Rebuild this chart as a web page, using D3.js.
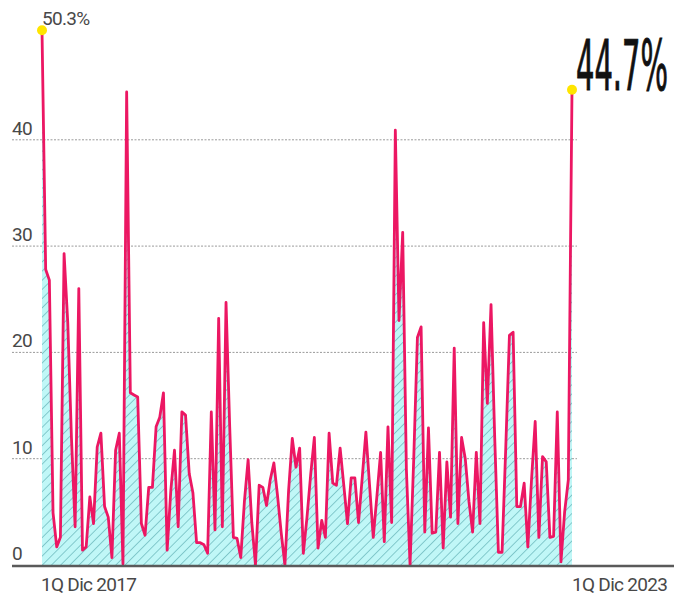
<!DOCTYPE html>
<html>
    <body>
        <svg id="svg"></svg>
    </body>
</html>

<script src="https://d3js.org/d3.v7.min.js"></script>

<script>
    let visWidth = 674;
    let visHeight = 596;

    // fortnightly values (%), 1Q Dic 2017 .. 1Q Dic 2023
    let values = [
        50.3, 27.8, 26.8, 4.9, 1.7, 2.6, 29.3, 22.8, 12, 3.6,
        26, 1.4, 1.7, 6.4, 3.9, 11.1, 12.4, 5.5, 4.5, 0.7,
        10.8, 12.4, 0.1, 44.5, 16.2, 16.0, 15.8, 3.9, 2.8, 7.3,
        7.3, 13, 13.9, 16.2, 1.4, 7, 10.8, 3.6, 14.4, 14.1,
        8.6, 6.8, 2.1, 2.1, 1.9, 1.1, 14.4, 3.3, 23.2, 3.6,
        24.7, 13, 2.6, 2.5, 0.7, 6, 9.9, 4, 0, 7.5,
        7.3, 5.6, 8, 9.6, 6.5, 3, 0, 7, 11.9, 9.2,
        11, 1.1, 4.5, 8.5, 12, 1.6, 4.2, 2.6, 12.4, 7.7,
        7.5, 11, 7.5, 3.9, 8.2, 8.2, 4.0, 8.2, 12.5, 7.5,
        2.6, 6.5, 10.6, 2.2, 13, 4.0, 40.9, 23, 31.3, 9,
        0, 10, 21.4, 22.4, 3.1, 12.9, 3.0, 3.1, 10.6, 1.6,
        9.7, 4.5, 20.4, 3.9, 12, 10, 6, 3.1, 10.6, 3.9,
        22.8, 15.2, 24.5, 12, 1.2, 1.2, 11, 21.6, 21.9, 5.5,
        5.5, 7.7, 1.7, 8, 13.5, 2.6, 10.2, 9.7, 2.6, 2.7,
        14.4, 0.3, 5, 8, 44.7
    ];
    let yTicks = [0, 10, 20, 30, 40];
    let xLabels = ['1Q Dic 2017', '1Q Dic 2023'];
    let firstLabel = '50.3%';
    let lastLabel = '44.7%';

    let svg = d3.select('#svg')
        .attr('width', visWidth)
        .attr('height', visHeight);

    let last = values.length - 1;

    let xScale = d3.scaleLinear()
        .domain([0, last])
        .range([42, 572]);

    let yScale = d3.scaleLinear()
        .domain([0, 50])
        .range([565, 33.5]);

    // hatch for the area
    let pattern = svg.append('defs').append('pattern')
        .attr('id', 'hatch')
        .attr('patternUnits', 'userSpaceOnUse')
        .attr('width', 6.5)
        .attr('height', 6.5)
        .attr('patternTransform', 'rotate(45)');
    pattern.append('rect')
        .attr('width', 6.5).attr('height', 6.5)
        .attr('fill', '#c0f7f7');
    pattern.append('line')
        .attr('x1', 0).attr('y1', 0)
        .attr('x2', 0).attr('y2', 6.5)
        .attr('stroke', '#62b1b5')
        .attr('stroke-width', 1.3);

    // gridlines
    svg.selectAll('.grid')
        .data(yTicks.filter(t => t > 0))
        .enter()
        .append('line')
            .attr('class', 'grid')
            .attr('x1', 12)
            .attr('x2', 577)
            .attr('y1', d => yScale(d))
            .attr('y2', d => yScale(d));

    svg.selectAll('.ylabel')
        .data(yTicks)
        .enter()
        .append('text')
            .attr('class', 'ylabel')
            .attr('x', 12)
            .attr('y', d => yScale(d) - 5)
            .text(d => d);

    let area = d3.area()
        .x((d, i) => xScale(i))
        .y0(yScale(0))
        .y1(d => yScale(d));

    let line = d3.line()
        .x((d, i) => xScale(i))
        .y(d => yScale(d));

    svg.append('path')
        .datum(values)
        .attr('d', area)
        .attr('fill', 'url(#hatch)');

    svg.append('path')
        .datum(values)
        .attr('d', line)
        .attr('fill', 'none')
        .attr('stroke', '#ec1763')
        .attr('stroke-width', 2.8)
        .attr('stroke-linejoin', 'round');

    // baseline
    svg.append('line')
        .attr('x1', 12)
        .attr('x2', visWidth)
        .attr('y1', yScale(0) + 1)
        .attr('y2', yScale(0) + 1)
        .attr('stroke', '#5a5a5a')
        .attr('stroke-width', 2.5);

    svg.selectAll('.xlabel')
        .data(xLabels)
        .enter()
        .append('text')
            .attr('class', 'xlabel')
            .attr('x', (d, i) => i == 0 ? xScale(0) - 1 : xScale(last))
            .attr('y', 591)
            .text(d => d);

    // end points
    svg.selectAll('.dot')
        .data([0, last])
        .enter()
        .append('circle')
            .attr('class', 'dot')
            .attr('cx', d => xScale(d))
            .attr('cy', d => yScale(values[d]))
            .attr('r', 5)
            .attr('fill', '#ffe500');

    svg.append('text')
        .attr('class', 'first')
        .attr('x', xScale(0))
        .attr('y', 25)
        .text(firstLabel);

    // big condensed figure: squeeze it so it fits in the right margin
    // (styles set inline, the <style> block is parsed after this script)
    let lastText = svg.append('text')
        .style('font-family', "'Liberation Sans Narrow', 'DejaVu Sans Condensed', Roboto")
        .style('font-size', '70px')
        .style('fill', '#111')
        .style('stroke', '#111')
        .style('stroke-width', '1px')
        .text(lastLabel);
    let natural = lastText.node().getComputedTextLength();
    let squeeze = 92 / natural;
    lastText.attr('transform',
        `translate(${xScale(last) + 4}, ${yScale(values[last])}) scale(${squeeze}, 1)`);
</script>

<style>
    body {
        margin: 0;
        background: white;
        font-family: Roboto, Arial;
    }
    .grid {
        stroke: #9a9a9a;
        stroke-width: 1;
        stroke-dasharray: 2, 1.5;
    }
    .ylabel, .xlabel, .first {
        font-size: 19px;
        fill: #484848;
        letter-spacing: -0.7px;
    }
</style>
